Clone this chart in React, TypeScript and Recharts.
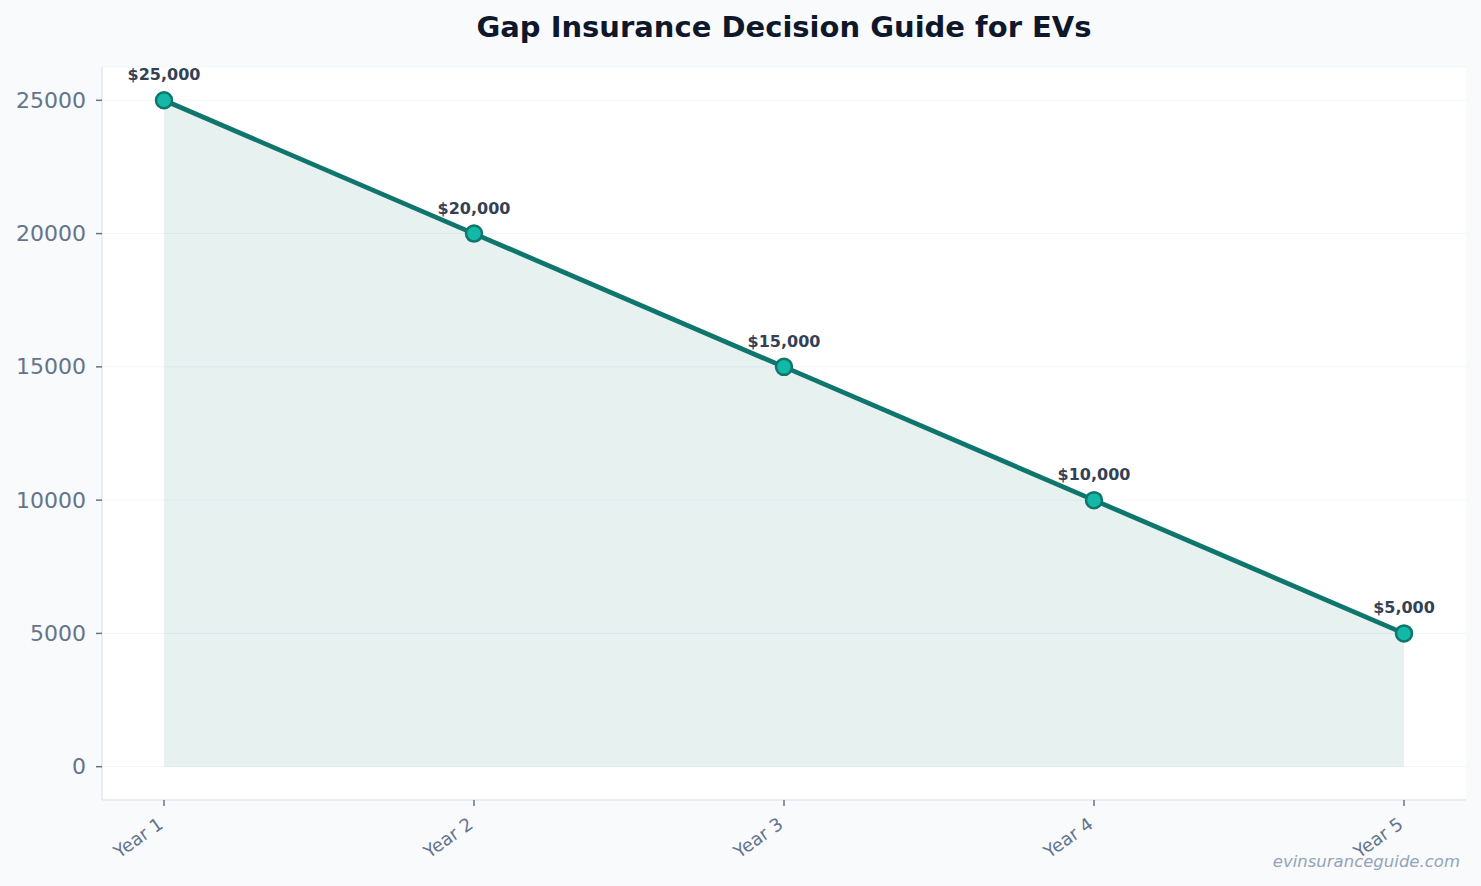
import React from "react";
import {
  ComposedChart,
  Area,
  XAxis,
  YAxis,
  CartesianGrid,
  LabelList,
} from "recharts";

const categories = ["Year 1", "Year 2", "Year 3", "Year 4", "Year 5"];
const values = [25000, 20000, 15000, 10000, 5000];
const yTicks = [0, 5000, 10000, 15000, 20000, 25000];

const data = categories.map((c, i) => ({ idx: i, name: c, value: values[i] }));

const FONT = "'DejaVu Sans', sans-serif";

const XTick = (props: any) => {
  const { x, y, payload } = props;
  return (
    <g transform={`translate(${x - 3},${y + 14})`}>
      <text
        textAnchor="end"
        transform="rotate(-35)"
        fill="#64748b"
        fontSize={18}
        fontFamily={FONT}
        dy={6}
      >
        {categories[payload.value]}
      </text>
    </g>
  );
};

const YTick = (props: any) => {
  const { x, y, payload } = props;
  return (
    <text
      x={x - 8}
      y={y}
      textAnchor="end"
      dominantBaseline="central"
      fill="#64748b"
      fontSize={22}
      fontFamily={FONT}
    >
      {payload.value}
    </text>
  );
};

const renderLabel = (props: any) => {
  const { x, y, value } = props;
  return (
    <text
      x={x}
      y={y - 20}
      textAnchor="middle"
      fill="#334155"
      fontSize={16}
      fontWeight="bold"
      fontFamily={FONT}
    >
      {"$" + Number(value).toLocaleString("en-US")}
    </text>
  );
};

export default function App() {
  return (
    <div
      style={{
        position: "absolute",
        left: 0,
        top: 0,
        width: 1481,
        height: 886,
        background: "#f8fafc",
        fontFamily: FONT,
      }}
    >
      <div
        style={{
          position: "absolute",
          top: 10,
          left: 102,
          width: 1364,
          textAlign: "center",
          fontSize: 29,
          fontWeight: "bold",
          color: "#0f172a",
          fontFamily: FONT,
        }}
      >
        Gap Insurance Decision Guide for EVs
      </div>
      <ComposedChart
        width={1481}
        height={886}
        data={data}
        margin={{ top: 67, right: 15, bottom: 0, left: 0 }}
      >
        <CartesianGrid
          vertical={false}
          stroke="#f1f5f9"
          fill="#ffffff"
          fillOpacity={1}
        />
        <XAxis
          dataKey="idx"
          type="number"
          domain={[-0.2, 4.2]}
          ticks={[0, 1, 2, 3, 4]}
          height={86}
          axisLine={{ stroke: "#e2e8f0", strokeWidth: 1.5 }}
          tickLine={{ stroke: "#64748b", strokeWidth: 1.5 }}
          tickSize={6}
          tick={<XTick />}
          interval={0}
        />
        <YAxis
          type="number"
          domain={[-1250, 26250]}
          ticks={yTicks}
          width={102}
          axisLine={{ stroke: "#e2e8f0", strokeWidth: 1.5 }}
          tickLine={{ stroke: "#64748b", strokeWidth: 1.5 }}
          tickSize={6}
          tick={<YTick />}
          interval={0}
        />
        <Area
          type="linear"
          dataKey="value"
          stroke="#0f766e"
          strokeWidth={4.8}
          fill="#0f766e"
          fillOpacity={0.1}
          baseValue={0}
          isAnimationActive={false}
          dot={{ r: 8, fill: "#14b8a6", stroke: "#0f766e", strokeWidth: 2.5, fillOpacity: 1 }}
          activeDot={false}
        >
          <LabelList dataKey="value" content={renderLabel} />
        </Area>
      </ComposedChart>
      <div
        style={{
          position: "absolute",
          right: 21,
          top: 852,
          fontSize: 16.5,
          fontStyle: "italic",
          color: "#94a3b8",
          fontFamily: FONT,
        }}
      >
        evinsuranceguide.com
      </div>
    </div>
  );
}
